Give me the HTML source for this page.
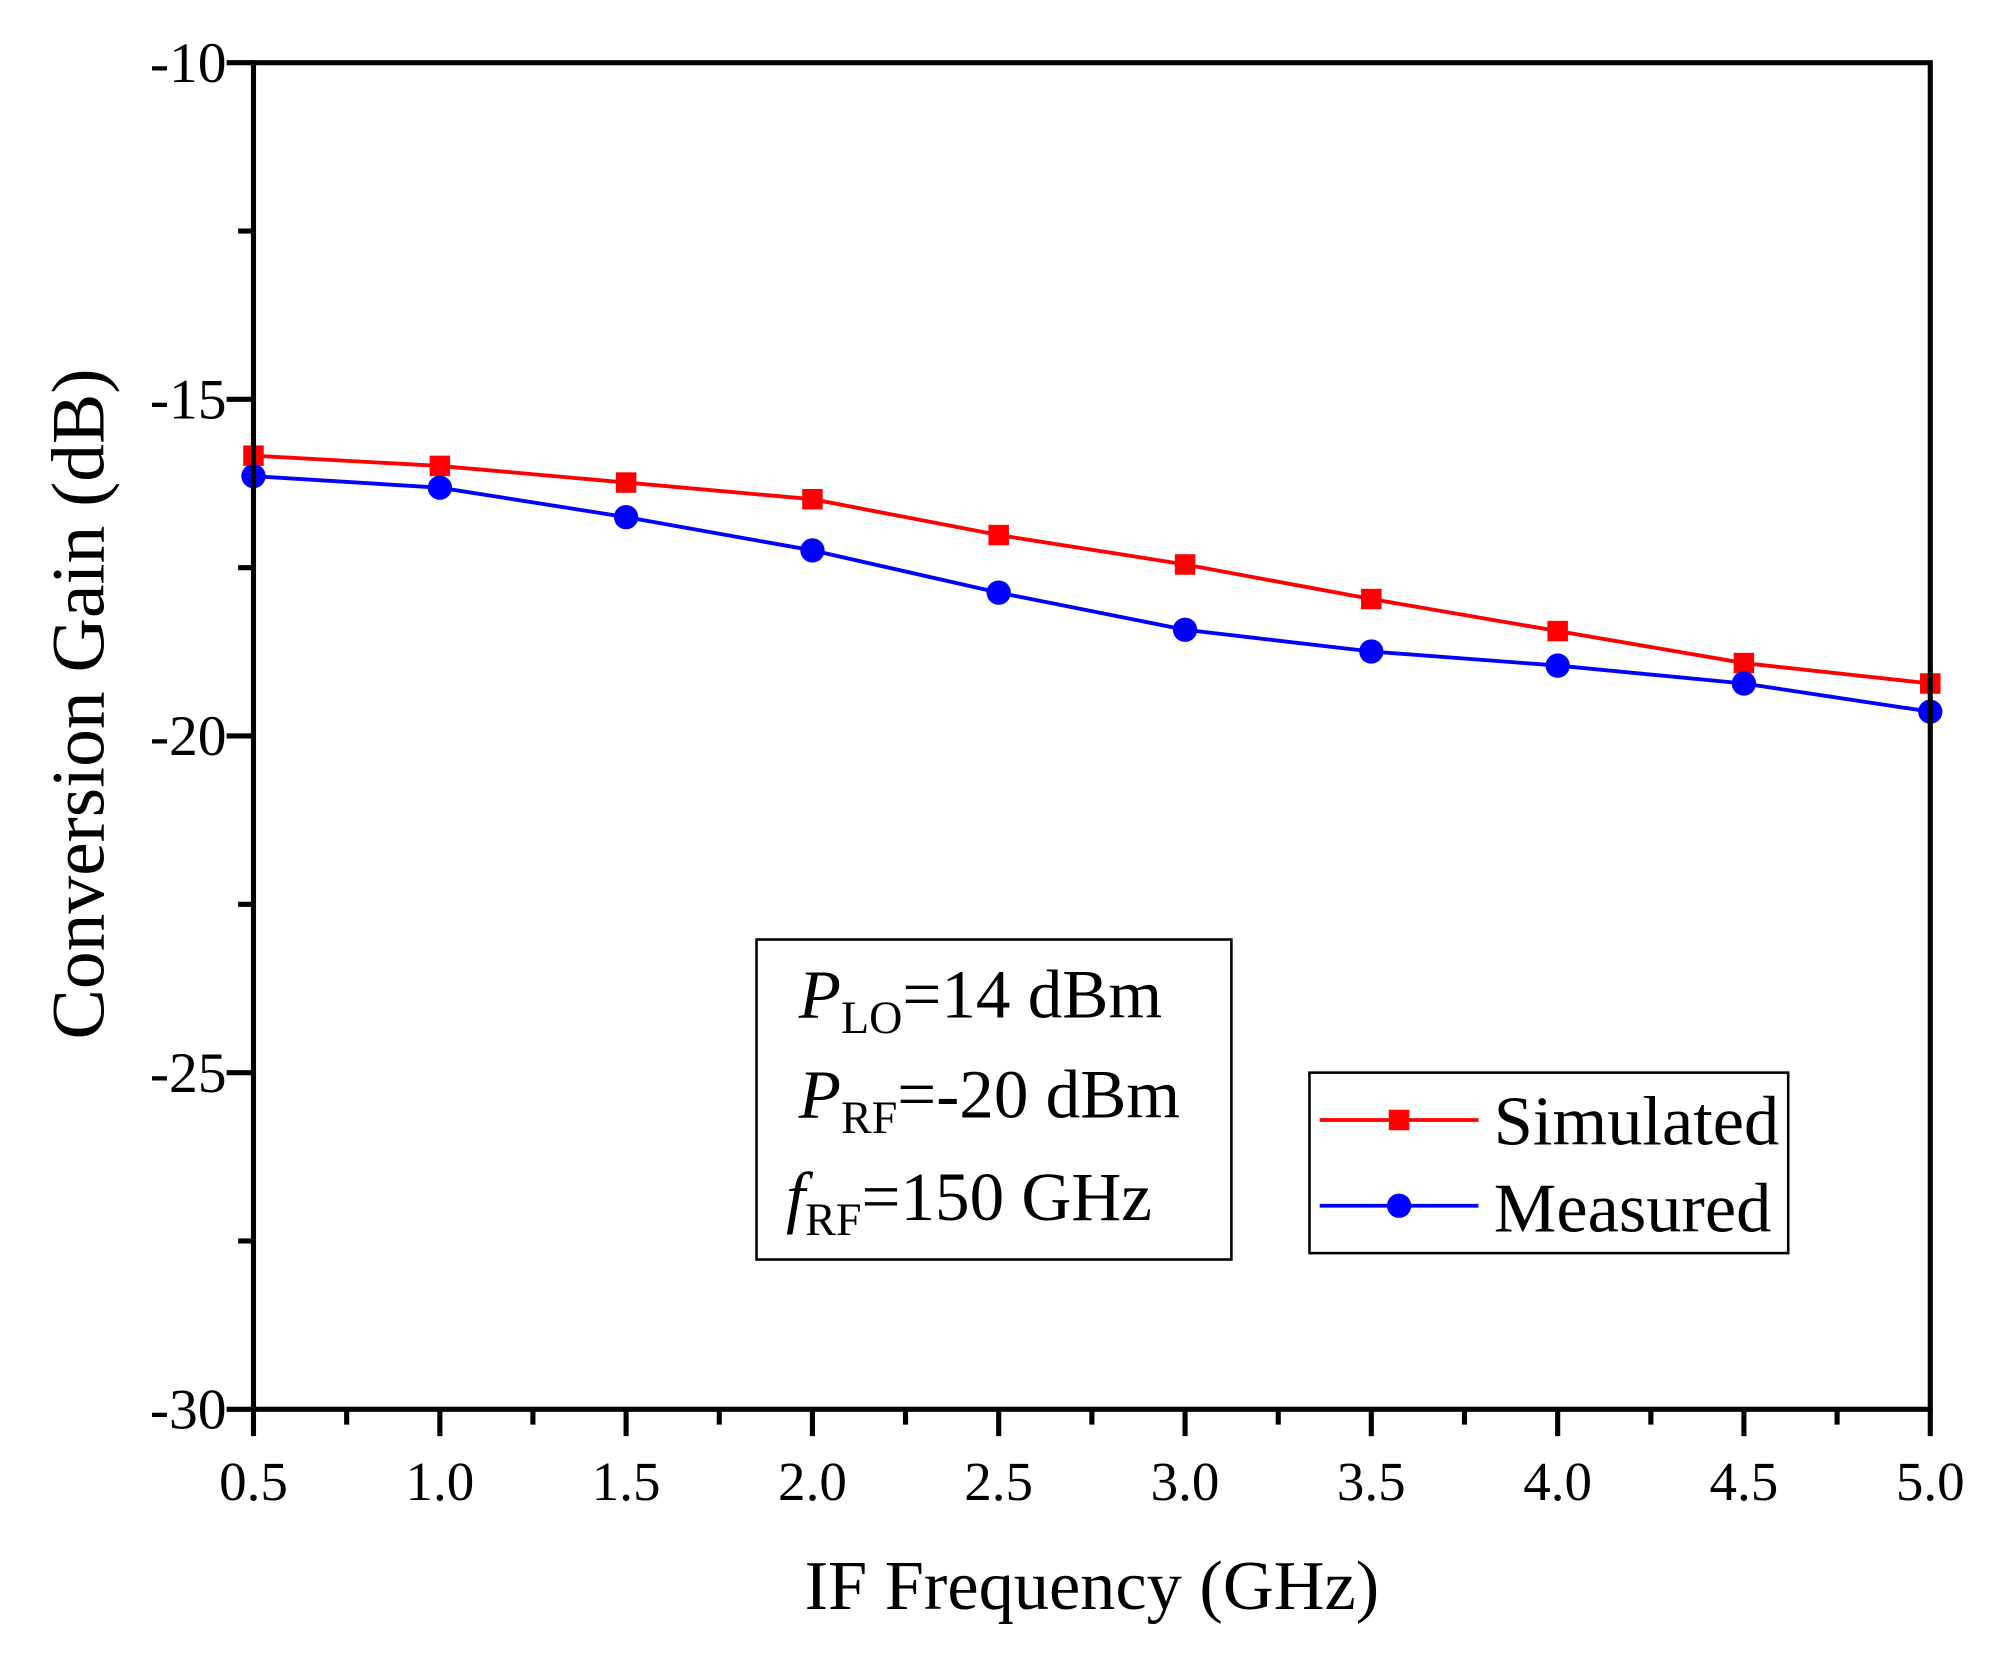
<!DOCTYPE html>
<html><head><meta charset="utf-8"><style>html,body{margin:0;padding:0;background:#fff}svg{display:block}</style></head>
<body>
<svg width="2002" height="1659" viewBox="0 0 1564 1296.1" xmlns="http://www.w3.org/2000/svg" font-family="'Liberation Serif', serif">
<rect x="0" y="0" width="1564" height="1296.1" fill="#fff"/>
<g stroke="#000" stroke-width="4">
<line x1="177" y1="49" x2="198" y2="49"/>
<line x1="177" y1="312" x2="198" y2="312"/>
<line x1="177" y1="575" x2="198" y2="575"/>
<line x1="177" y1="838" x2="198" y2="838"/>
<line x1="177" y1="1101" x2="198" y2="1101"/>
<line x1="186" y1="180.5" x2="198" y2="180.5"/>
<line x1="186" y1="443.5" x2="198" y2="443.5"/>
<line x1="186" y1="706.5" x2="198" y2="706.5"/>
<line x1="186" y1="969.5" x2="198" y2="969.5"/>
<line x1="198" y1="1101" x2="198" y2="1122"/>
<line x1="343.6" y1="1101" x2="343.6" y2="1122"/>
<line x1="489.1" y1="1101" x2="489.1" y2="1122"/>
<line x1="634.7" y1="1101" x2="634.7" y2="1122"/>
<line x1="780.2" y1="1101" x2="780.2" y2="1122"/>
<line x1="925.8" y1="1101" x2="925.8" y2="1122"/>
<line x1="1071.3" y1="1101" x2="1071.3" y2="1122"/>
<line x1="1216.9" y1="1101" x2="1216.9" y2="1122"/>
<line x1="1362.4" y1="1101" x2="1362.4" y2="1122"/>
<line x1="1508" y1="1101" x2="1508" y2="1122"/>
<line x1="270.8" y1="1101" x2="270.8" y2="1113"/>
<line x1="416.3" y1="1101" x2="416.3" y2="1113"/>
<line x1="561.9" y1="1101" x2="561.9" y2="1113"/>
<line x1="707.4" y1="1101" x2="707.4" y2="1113"/>
<line x1="853" y1="1101" x2="853" y2="1113"/>
<line x1="998.6" y1="1101" x2="998.6" y2="1113"/>
<line x1="1144.1" y1="1101" x2="1144.1" y2="1113"/>
<line x1="1289.7" y1="1101" x2="1289.7" y2="1113"/>
<line x1="1435.2" y1="1101" x2="1435.2" y2="1113"/>
</g>
<polyline fill="none" stroke="#ff0000" stroke-width="3" points="198,356 343.6,364 489.1,377 634.7,390 780.2,418 925.8,441 1071.3,468 1216.9,493 1362.4,518 1508,534"/>
<polyline fill="none" stroke="#0000ff" stroke-width="3" points="198,372 343.6,381 489.1,404 634.7,430 780.2,463 925.8,492 1071.3,509 1216.9,520 1362.4,534 1508,556"/>
<g fill="#ff0000">
<rect x="190" y="348" width="16" height="16"/><rect x="335.6" y="356" width="16" height="16"/><rect x="481.1" y="369" width="16" height="16"/><rect x="626.7" y="382" width="16" height="16"/><rect x="772.2" y="410" width="16" height="16"/><rect x="917.8" y="433" width="16" height="16"/><rect x="1063.3" y="460" width="16" height="16"/><rect x="1208.9" y="485" width="16" height="16"/><rect x="1354.4" y="510" width="16" height="16"/><rect x="1500" y="526" width="16" height="16"/>
</g>
<g fill="#0000ff">
<circle cx="198" cy="372" r="9.5"/><circle cx="343.6" cy="381" r="9.5"/><circle cx="489.1" cy="404" r="9.5"/><circle cx="634.7" cy="430" r="9.5"/><circle cx="780.2" cy="463" r="9.5"/><circle cx="925.8" cy="492" r="9.5"/><circle cx="1071.3" cy="509" r="9.5"/><circle cx="1216.9" cy="520" r="9.5"/><circle cx="1362.4" cy="534" r="9.5"/><circle cx="1508" cy="556" r="9.5"/>
</g>
<rect x="198" y="49" width="1310" height="1052" fill="none" stroke="#000" stroke-width="4"/>
<g font-size="45" text-anchor="end">
<text x="177" y="64">-10</text>
<text x="177" y="327">-15</text>
<text x="177" y="590">-20</text>
<text x="177" y="853">-25</text>
<text x="177" y="1116">-30</text>
</g>
<g font-size="43" text-anchor="middle">
<text x="198" y="1172">0.5</text><text x="343.6" y="1172">1.0</text><text x="489.1" y="1172">1.5</text><text x="634.7" y="1172">2.0</text><text x="780.2" y="1172">2.5</text><text x="925.8" y="1172">3.0</text><text x="1071.3" y="1172">3.5</text><text x="1216.9" y="1172">4.0</text><text x="1362.4" y="1172">4.5</text><text x="1508" y="1172">5.0</text>
</g>
<text x="853" y="1257" font-size="55" text-anchor="middle">IF Frequency (GHz)</text>
<text transform="translate(81,550) rotate(-90)" font-size="59" text-anchor="middle">Conversion Gain (dB)</text>
<rect x="591" y="734" width="371" height="250" fill="#fff" stroke="#000" stroke-width="2"/>
<g font-size="54">
<text x="624" y="795"><tspan font-style="italic">P</tspan><tspan font-size="36" dy="12">LO</tspan><tspan dy="-12">=14 dBm</tspan></text>
<text x="624" y="873"><tspan font-style="italic">P</tspan><tspan font-size="36" dy="12">RF</tspan><tspan dy="-12">=-20 dBm</tspan></text>
<text x="614" y="953"><tspan font-style="italic">f</tspan><tspan font-size="36" dy="12">RF</tspan><tspan dy="-12">=150 GHz</tspan></text>
</g>
<rect x="1023" y="838" width="374" height="141" fill="#fff" stroke="#000" stroke-width="2"/>
<line x1="1031" y1="875" x2="1155" y2="875" stroke="#ff0000" stroke-width="3"/>
<rect x="1085" y="867" width="16" height="16" fill="#ff0000"/>
<line x1="1031" y1="942" x2="1155" y2="942" stroke="#0000ff" stroke-width="3"/>
<circle cx="1093" cy="942" r="9.5" fill="#0000ff"/>
<text x="1167" y="894" font-size="55">Simulated</text>
<text x="1167" y="962" font-size="55">Measured</text>
</svg>
</body></html>
